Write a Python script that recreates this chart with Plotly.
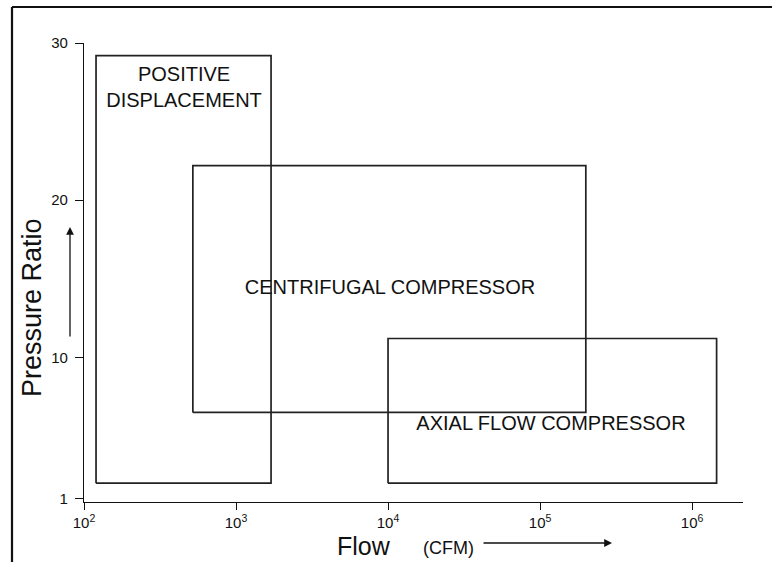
import plotly.graph_objects as go

# ---- data ----
regions = ["POSITIVE<br>DISPLACEMENT", "CENTRIFUGAL COMPRESSOR", "AXIAL FLOW COMPRESSOR"]
flow_min = [120, 520, 1.0e4]          # CFM
flow_max = [1700, 2.0e5, 1.45e6]      # CFM
pr_min = [2.0, 6.5, 2.0]              # pressure ratio
pr_max = [29.2, 22.2, 11.2]
label_flow = [455, 1.03e4, 1.18e5]
label_pr = [27.1, 14.35, 5.7]

x_tickvals = [1e2, 1e3, 1e4, 1e5, 1e6]
x_ticktext = ["10<sup>2</sup>", "10<sup>3</sup>", "10<sup>4</sup>", "10<sup>5</sup>", "10<sup>6</sup>"]
y_tickvals = [1, 10, 20, 30]
y_ticktext = ["1", "10", "20", "30"]

FONT = "Liberation Sans, Arial, Helvetica, sans-serif"
INK = "#111111"

fig = go.Figure()
for i in range(len(regions)):
    fig.add_trace(go.Scatter(
        x=[flow_min[i], flow_max[i], flow_max[i], flow_min[i], flow_min[i]],
        y=[pr_min[i], pr_min[i], pr_max[i], pr_max[i], pr_min[i]],
        mode="lines", line=dict(color="#222222", width=1.7),
        hoverinfo="skip", showlegend=False))

fig.add_trace(go.Scatter(
    x=label_flow, y=label_pr, mode="text", text=regions,
    textfont=dict(family=FONT, size=20, color=INK),
    textposition="middle center", hoverinfo="skip", showlegend=False))

fig.update_xaxes(type="log", range=[2, 6.335],
                 tickvals=x_tickvals, ticktext=x_ticktext,
                 showline=True, linecolor=INK, linewidth=1.2,
                 ticks="outside", ticklen=7, tickcolor=INK, tickwidth=1,
                 showgrid=False, zeroline=False,
                 tickfont=dict(family=FONT, size=15, color=INK))
fig.update_yaxes(range=[0.8, 30],
                 tickvals=y_tickvals, ticktext=y_ticktext,
                 showline=True, linecolor=INK, linewidth=1.2,
                 ticks="outside", ticklen=8, tickcolor=INK, tickwidth=1,
                 ticklabelstandoff=4,
                 showgrid=False, zeroline=False,
                 tickfont=dict(family=FONT, size=15, color=INK))

L, R, T, B = 84, 29, 43, 60
W, H = 772, 562
pw, ph = W - L - R, H - T - B

def px(x):
    return (x - L) / pw

def py(y):
    return (H - B - y) / ph

annotations = [
    dict(xref="paper", yref="paper", x=px(32), y=py(308), text="Pressure Ratio",
         textangle=-90, showarrow=False, xanchor="center", yanchor="middle",
         font=dict(family=FONT, size=27, color=INK)),
    dict(xref="paper", yref="paper", x=px(364), y=py(546), text="Flow",
         showarrow=False, xanchor="center", yanchor="middle",
         font=dict(family=FONT, size=25, color=INK)),
    dict(xref="paper", yref="paper", x=px(448), y=py(548), text="(CFM)",
         showarrow=False, xanchor="center", yanchor="middle",
         font=dict(family=FONT, size=18, color=INK)),
    dict(xref="paper", yref="paper", x=px(70), y=py(227), text="",
         showarrow=True, ax=0, ay=111, arrowhead=2, arrowsize=1.2,
         arrowwidth=1.3, arrowcolor=INK),
    dict(xref="paper", yref="paper", x=px(612), y=py(543), text="",
         showarrow=True, ax=-130, ay=0, arrowhead=2, arrowsize=1.2,
         arrowwidth=1.3, arrowcolor=INK),
]

shapes = [
    dict(type="line", xref="paper", yref="paper", x0=px(12), x1=px(772),
         y0=py(7), y1=py(7), line=dict(color="#111", width=2.2)),
    dict(type="line", xref="paper", yref="paper", x0=px(12), x1=px(12),
         y0=py(7), y1=py(562), line=dict(color="#111", width=2.2)),
]

fig.update_layout(width=W, height=H, margin=dict(l=L, r=R, t=T, b=B),
                  paper_bgcolor="white", plot_bgcolor="white",
                  annotations=annotations, shapes=shapes, showlegend=False)

fig.write_html("out.html", config={"displayModeBar": False},
               post_script="document.body.style.margin='0';"
                           "document.body.style.overflow='hidden';")
